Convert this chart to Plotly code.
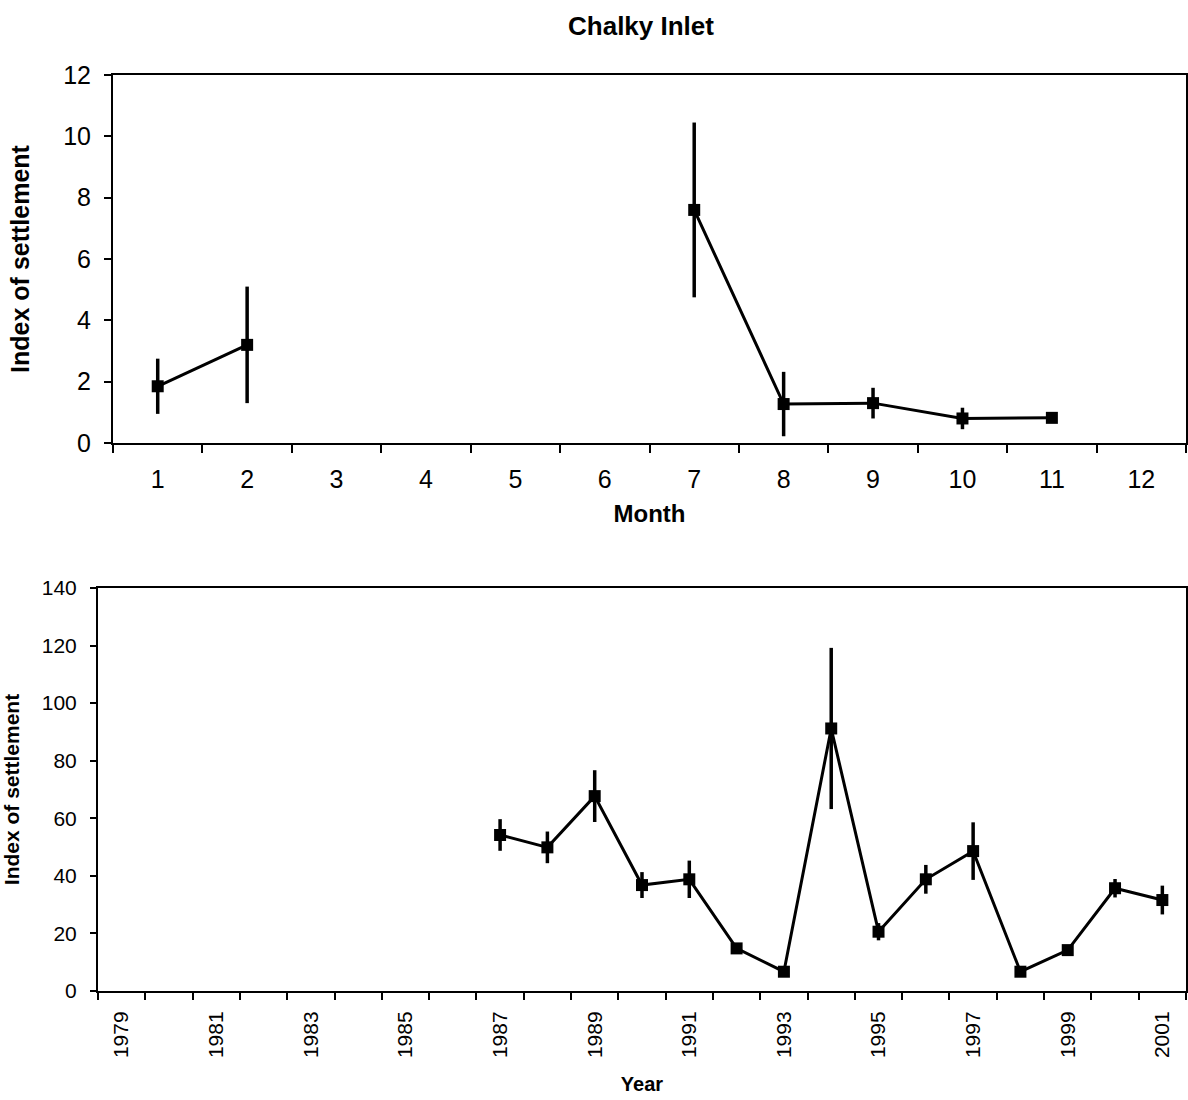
import plotly.graph_objects as go

# Monthly settlement index (months without sampling left empty)
months = [1, 2, 3, 4, 5, 6, 7, 8, 9, 10, 11, 12]
month_index = [1.85, 3.2, None, None, None, None, 7.6, 1.27, 1.3, 0.8, 0.82, None]
month_err = [0.9, 1.9, None, None, None, None, 2.85, 1.05, 0.5, 0.35, 0.12, None]

# Annual settlement index
years = list(range(1979, 2002))
year_index = [None, None, None, None, None, None, None, None,
              54.2, 49.9, 67.7, 36.8, 38.8, 14.8, 6.7, 91.2,
              20.6, 38.8, 48.6, 6.7, 14.2, 35.7, 31.6]
year_err = [None, None, None, None, None, None, None, None,
            5.5, 5.5, 9.0, 4.5, 6.5, 1.5, 1.0, 28.0,
            3.0, 5.0, 10.0, 1.0, 1.5, 3.2, 5.0]
year_labels = list(range(1979, 2002, 2))

W, H = 1188, 1100
FONT = "Liberation Sans, Arial, sans-serif"
BLACK = "#000000"


def err(arr):
    return dict(type="data", array=arr, visible=True, width=0,
                thickness=3.5, color=BLACK)


fig = go.Figure()
fig.add_trace(go.Scatter(
    x=months, y=month_index, error_y=err(month_err),
    mode="lines+markers", connectgaps=False,
    line=dict(color=BLACK, width=3),
    marker=dict(symbol="square", size=12, color=BLACK),
    xaxis="x", yaxis="y", hoverinfo="x+y"))
fig.add_trace(go.Scatter(
    x=years, y=year_index, error_y=err(year_err),
    mode="lines+markers", connectgaps=False,
    line=dict(color=BLACK, width=3),
    marker=dict(symbol="square", size=12, color=BLACK),
    xaxis="x2", yaxis="y2", hoverinfo="x+y"))

frame = dict(showline=True, mirror=True, linecolor=BLACK, linewidth=2,
             showgrid=False, zeroline=False, fixedrange=True)

fig.update_layout(
    width=W, height=H,
    margin=dict(l=0, r=0, t=0, b=0, autoexpand=False),
    paper_bgcolor="white", plot_bgcolor="white",
    showlegend=False,
    font=dict(family=FONT, color=BLACK),
    title=dict(text="Chalky Inlet", x=641 / W, xanchor="center",
               y=1 - 26 / H, yanchor="middle",
               font=dict(size=26, weight="bold")),
    xaxis=dict(
        **frame, domain=[113 / W, 1186 / W], anchor="y",
        range=[0.5, 12.5], tickvals=months,
        ticks="outside", ticklen=0, ticklabelstandoff=13,
        tickfont=dict(size=25),
        minor=dict(ticks="outside", ticklen=8, tickwidth=2,
                   tickcolor=BLACK, tick0=0.5, dtick=1, showgrid=False),
        title=dict(text="Month", font=dict(size=24, weight="bold"),
                   standoff=13),
    ),
    yaxis=dict(
        **frame, domain=[1 - 443 / H, 1 - 75 / H], anchor="x",
        range=[0, 12], dtick=2,
        ticks="outside", ticklen=7, tickwidth=2, tickcolor=BLACK,
        ticklabelstandoff=8, tickfont=dict(size=25),
        title=dict(text="Index of settlement",
                   font=dict(size=25, weight="bold"), standoff=26),
    ),
    xaxis2=dict(
        **frame, domain=[98 / W, 1186 / W], anchor="y2",
        range=[1978.5, 2001.5], tickvals=year_labels, tickangle=-90,
        ticks="outside", ticklen=0, ticklabelstandoff=10,
        tickfont=dict(size=21),
        minor=dict(ticks="outside", ticklen=7, tickwidth=2,
                   tickcolor=BLACK, tick0=1978.5, dtick=1, showgrid=False),
        title=dict(text="Year", font=dict(size=20, weight="bold"),
                   standoff=20),
    ),
    yaxis2=dict(
        **frame, domain=[1 - 991 / H, 1 - 588 / H], anchor="x2",
        range=[0, 140], dtick=20,
        ticks="outside", ticklen=6, tickwidth=2, tickcolor=BLACK,
        ticklabelstandoff=9, tickfont=dict(size=21),
        title=dict(text="Index of settlement",
                   font=dict(size=21, weight="bold"), standoff=20),
    ),
)

fig.write_html("out.html")
